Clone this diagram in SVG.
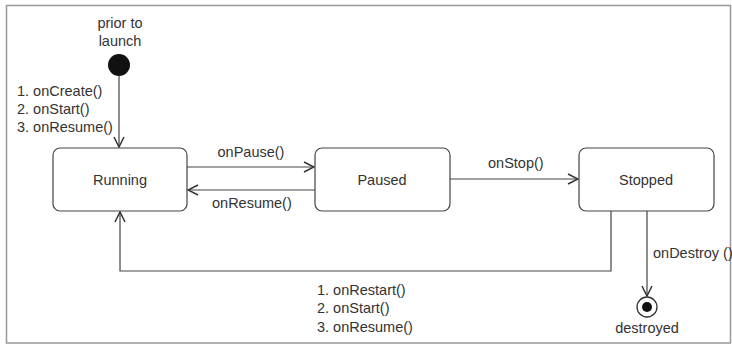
<svg xmlns="http://www.w3.org/2000/svg" width="732" height="345" viewBox="0 0 732 345">
<style>
text{font-family:"Liberation Sans",Arial,sans-serif;fill:#333;font-size:14.5px}
.node{fill:#fff;stroke:#444;stroke-width:1.2}
.lbl{font-size:14.5px;text-anchor:middle}
.c{fill:none;stroke:#444;stroke-width:1.2}
</style>
<defs>
<marker id="arr" viewBox="0 0 12 12" refX="11" refY="6" markerWidth="12" markerHeight="12" markerUnits="userSpaceOnUse" orient="auto">
<path d="M1,1 L11,6 L1,11" fill="none" stroke="#333" stroke-width="1.5"/>
</marker>
</defs>
<rect x="0" y="0" width="732" height="345" fill="#fff"/>
<rect x="6.5" y="5.5" width="724" height="337.5" fill="none" stroke="#999" stroke-width="1.5"/>
<g id="connectors">
<line class="c" x1="119" y1="76" x2="119" y2="147" marker-end="url(#arr)"/>
<line class="c" x1="187" y1="167" x2="314" y2="167" marker-end="url(#arr)"/>
<line class="c" x1="315" y1="190" x2="188" y2="190" marker-end="url(#arr)"/>
<line class="c" x1="450" y1="179" x2="578" y2="179" marker-end="url(#arr)"/>
<line class="c" x1="647" y1="211" x2="647" y2="296" marker-end="url(#arr)"/>
<polyline class="c" points="611,211 611,271 120,271 120,212" marker-end="url(#arr)"/>
<text x="17" y="96">1. onCreate()</text>
<text x="17" y="114">2. onStart()</text>
<text x="17" y="132">3. onResume()</text>
<text x="251" y="157" text-anchor="middle">onPause()</text>
<text x="212" y="208">onResume()</text>
<text x="488" y="168">onStop()</text>
<text x="653" y="258">onDestroy ()</text>
<text x="317" y="295">1. onRestart()</text>
<text x="317" y="313">2. onStart()</text>
<text x="317" y="332">3. onResume()</text>
</g>
<g id="start">
<text x="120" y="28" text-anchor="middle">prior to</text>
<text x="120" y="46" text-anchor="middle">launch</text>
<circle cx="119" cy="65" r="11" fill="#111"/>
</g>
<g id="running">
<rect class="node" x="53" y="148" width="134" height="63" rx="7"/>
<text class="lbl" x="120" y="185">Running</text>
</g>
<g id="paused">
<rect class="node" x="315" y="148" width="135" height="63" rx="7"/>
<text class="lbl" x="382" y="185">Paused</text>
</g>
<g id="stopped">
<rect class="node" x="579" y="148" width="135" height="63" rx="7"/>
<text class="lbl" x="646" y="185">Stopped</text>
</g>
<g id="destroyed">
<circle cx="647" cy="307" r="10" fill="#fff" stroke="#333" stroke-width="1.3"/>
<circle cx="647" cy="307" r="5" fill="#111"/>
<text x="647" y="333" text-anchor="middle">destroyed</text>
</g>
</svg>
